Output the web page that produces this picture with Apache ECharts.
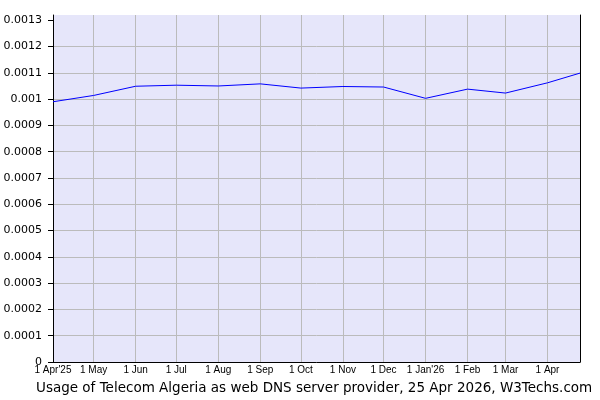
<!DOCTYPE html>
<html>
<head>
<meta charset="utf-8">
<script src="https://cdn.jsdelivr.net/npm/echarts@6/dist/echarts.min.js"></script>
<style>html,body{margin:0;padding:0;background:#fff}#c{width:600px;height:400px}</style>
</head>
<body>
<div id="c"></div>
<script>
const dates = ['2025-04-01','2025-05-01','2025-06-01','2025-07-01','2025-08-01','2025-09-01','2025-10-01','2025-11-01','2025-12-01','2026-01-01','2026-02-01','2026-03-01','2026-04-01','2026-04-25'];
const usage = [0.000990,0.001014,0.001049,0.001053,0.001050,0.001058,0.001042,0.001048,0.001046,0.001003,0.001038,0.001023,0.001062,0.001099];
const yTicks = [0,0.0001,0.0002,0.0003,0.0004,0.0005,0.0006,0.0007,0.0008,0.0009,0.001,0.0011,0.0012,0.0013];
const titleText = 'Usage of Telecom Algeria as web DNS server provider, 25 Apr 2026, W3Techs.com';
const monthNames = ['Jan','Feb','Mar','Apr','May','Jun','Jul','Aug','Sep','Oct','Nov','Dec'];

function toTime(s){const p=s.split('-').map(Number);return new Date(p[0],p[1]-1,p[2]).getTime();}
const xMin = toTime(dates[0]);
const xMax = toTime(dates[dates.length-1]);
const seriesData = dates.map((d,i)=>[toTime(d),usage[i]]);

const chart = echarts.init(document.getElementById('c'),null,{renderer:'canvas'});
chart.setOption({
  animation:false,
  backgroundColor:'#ffffff',
  title:{text:titleText,left:31,top:376,textStyle:{fontFamily:'DejaVu Sans',fontSize:13.5,fontWeight:'normal',color:'#000'}},
  grid:{left:53,right:20,top:15,bottom:38,show:true,backgroundColor:'#e6e6fa',borderWidth:0},
  xAxis:{
    type:'time',min:xMin,max:xMax,splitNumber:13,
    axisLine:{show:true,lineStyle:{color:'#000',width:1}},
    axisTick:{show:false},
    splitLine:{show:true,lineStyle:{color:'#bbbbbb',width:1}},
    axisLabel:{
      fontFamily:'Liberation Sans',fontSize:10,color:'#000',margin:3,hideOverlap:false,
      showMaxLabel:false,
      formatter:function(v){
        const d=new Date(v);
        let s=d.getDate()+' '+monthNames[d.getMonth()];
        if(d.getMonth()===0||v===xMin){s+="'"+String(d.getFullYear()).slice(2);}
        return s;
      }
    }
  },
  yAxis:[{
    type:'value',min:0,max:0.00132,interval:0.0001,
    axisLine:{show:true,lineStyle:{color:'#000',width:1}},
    axisTick:{show:true,length:5,lineStyle:{color:'#000'},customValues:yTicks},
    splitLine:{show:true,showMaxLine:false,lineStyle:{color:'#bbbbbb',width:1}},
    axisLabel:{fontFamily:'DejaVu Sans',fontSize:11,color:'#000',margin:11,customValues:yTicks,
      formatter:function(v){return String(Number(v.toPrecision(6)));}}
  },{
    type:'value',min:0,max:0.00132,position:'right',
    axisLine:{show:true,lineStyle:{color:'#000',width:1}},
    axisTick:{show:false},axisLabel:{show:false},splitLine:{show:false}
  }],
  series:[{
    type:'line',data:seriesData,showSymbol:false,symbol:'none',
    lineStyle:{color:'#0000ff',width:1},
    itemStyle:{color:'#0000ff'}
  }]
});
</script>
</body>
</html>
